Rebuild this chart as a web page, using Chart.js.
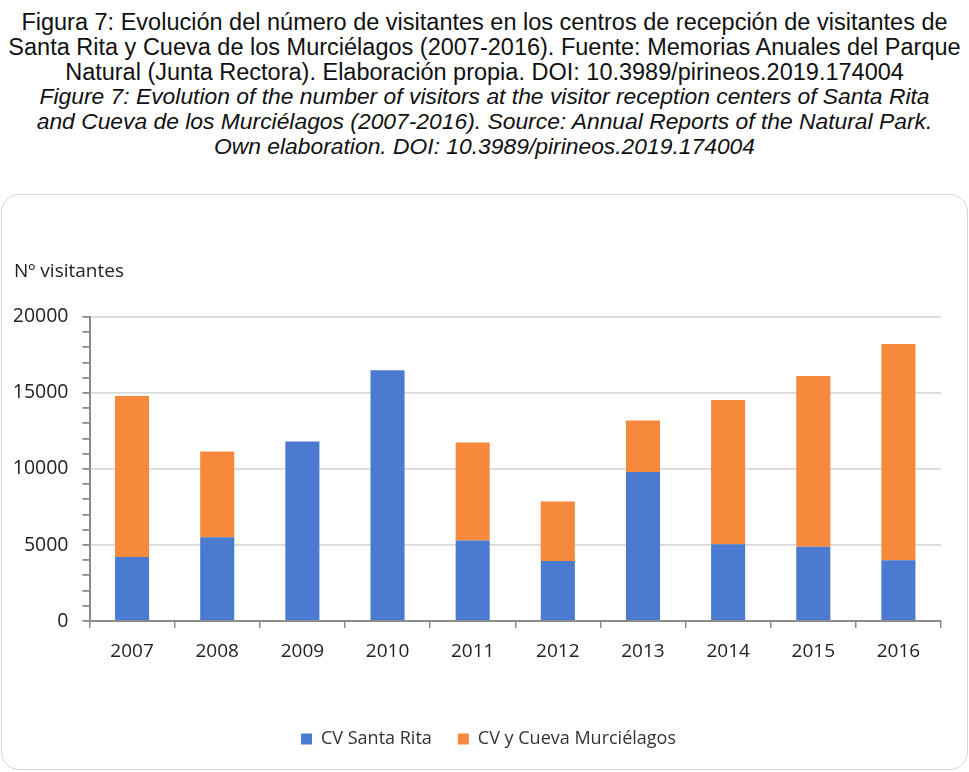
<!DOCTYPE html>
<html>
<head>
<meta charset="utf-8">
<script src="https://cdn.jsdelivr.net/npm/chart.js@4/dist/chart.umd.min.js"></script>
<style>
	body { margin: 0; background: #fff; width: 969px; height: 772px; position: relative; overflow: hidden; }
	.caption { position: absolute; left: 0; top: 10px; width: 969px; text-align: center; font-family: "Liberation Sans", Arial, sans-serif; font-size: 23.5px; line-height: 24.8px; color: #111; white-space: nowrap; }
	.caption i { display: block; font-size: 22.85px; }
	.box { position: absolute; left: 1px; top: 194px; width: 965px; height: 574px; border: 1.5px solid #d4d4d4; border-radius: 18px; }
	.box canvas { position: absolute; left: 0; top: 0; }
</style>
</head>
<body>
<div class="caption">
	Figura 7: Evolución del número de visitantes en los centros de recepción de visitantes de<br>
	Santa Rita y Cueva de los Murciélagos (2007-2016). Fuente: Memorias Anuales del Parque<br>
	Natural (Junta Rectora). Elaboración propia. DOI: 10.3989/pirineos.2019.174004
	<i>Figure 7: Evolution of the number of visitors at the visitor reception centers of Santa Rita<br>
	and Cueva de los Murciélagos (2007-2016). Source: Annual Reports of the Natural Park.<br>
	Own elaboration. DOI: 10.3989/pirineos.2019.174004</i>
</div>
<div class="box">
	<canvas id="grafica" width="965" height="574"></canvas>
</div>
<script>
(function () {
	// --- datos --- //
	const anios = ['2007', '2008', '2009', '2010', '2011', '2012', '2013', '2014', '2015', '2016'];
	const santaRita = [4200, 5500, 11800, 16480, 5300, 3940, 9800, 5050, 4880, 4000];
	const cuevaMurcielagos = [10600, 5650, 0, 0, 6430, 3920, 3390, 9480, 11220, 14210];
	const ticksY = [0, 5000, 10000, 15000, 20000];

	const grafica = document.getElementById('grafica');
	const fuente = '"Open Sans", sans-serif';

	// la leyenda va un poco a la derecha del centro
	const moverLeyenda = {
		id: 'moverLeyenda',
		afterLayout(chart) {
			chart.legend.left += 11;
			chart.legend.right += 11;
		},
	};

	new Chart(grafica, {
		type: 'bar',
		data: {
			labels: anios,
			datasets: [
				{
					label: 'CV Santa Rita',
					data: santaRita,
					backgroundColor: '#4b7bd0',
					categoryPercentage: 1,
					barPercentage: 0.4,
				},
				{
					label: 'CV y Cueva Murciélagos',
					data: cuevaMurcielagos,
					backgroundColor: '#f6893b',
					categoryPercentage: 1,
					barPercentage: 0.4,
				},
			],
		},
		options: {
			responsive: false,
			animation: false,
			layout: {
				padding: { left: 12, right: 26, top: 65, bottom: 11 },
			},
			scales: {
				x: {
					stacked: true,
					border: { color: '#8c8c8c', width: 2 },
					grid: {
						offset: true,
						drawOnChartArea: false,
						tickLength: 7,
						tickColor: '#8c8c8c',
						lineWidth: 1.5,
					},
					ticks: {
						color: '#222',
						padding: 12,
						font: { family: fuente, size: 19 },
					},
					afterFit: (scale) => { scale.height = 83; },
				},
				y: {
					stacked: true,
					min: 0,
					max: 20000,
					border: { color: '#8c8c8c', width: 2 },
					grid: {
						color: (ctx) => (ticksY.includes(ctx.tick.value) ? '#d9d9d9' : 'rgba(0,0,0,0)'),
						tickColor: '#8c8c8c',
						tickLength: 7,
						lineWidth: 1.8,
					},
					ticks: {
						stepSize: 1000,
						autoSkip: false,
						color: '#222',
						padding: 14,
						font: { family: fuente, size: 19.5 },
						callback: (v) => (ticksY.includes(v) ? v : ''),
					},
					afterFit: (scale) => { scale.width = 75.5; },
				},
			},
			plugins: {
				title: {
					display: true,
					text: 'Nº visitantes',
					align: 'start',
					color: '#222',
					font: { family: fuente, size: 19, weight: 'normal' },
					padding: { top: 0, bottom: 34 },
				},
				legend: {
					position: 'bottom',
					labels: {
						boxWidth: 11,
						boxHeight: 11,
						color: '#333',
						padding: 26,
						font: { family: fuente, size: 18 },
					},
				},
				tooltip: { enabled: false },
			},
		},
		plugins: [moverLeyenda],
	});
})();
</script>
</body>
</html>
